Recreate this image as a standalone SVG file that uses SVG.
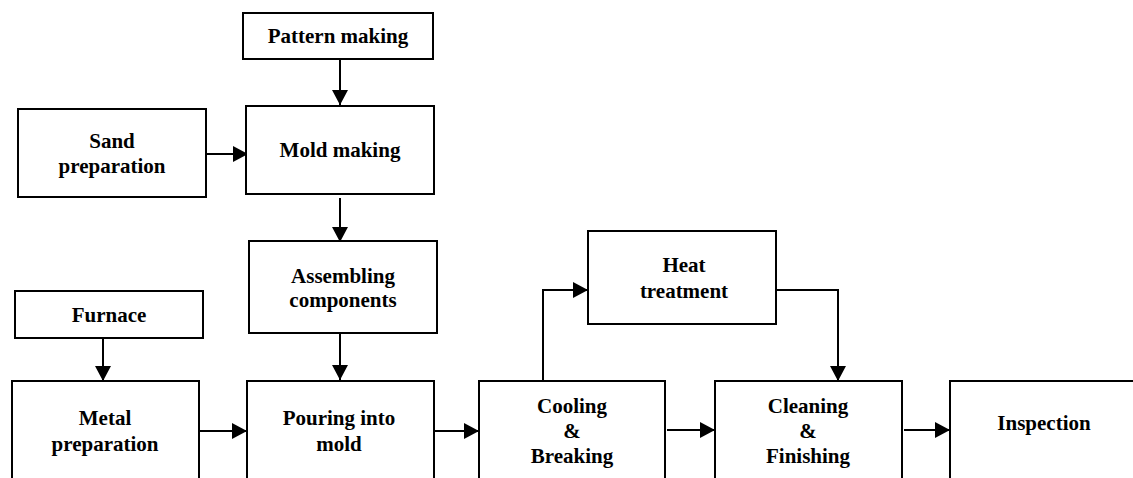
<svg xmlns="http://www.w3.org/2000/svg" width="1133" height="478" viewBox="0 0 1133 478">
<style>
.box{fill:#fff;stroke:#000;stroke-width:2}
.t{font-family:"Liberation Serif","Times New Roman",serif;font-weight:bold;font-size:21px;fill:#000;text-anchor:middle}
.c{fill:none;stroke:#000;stroke-width:2}
</style>
<defs>
<marker id="ah" markerUnits="userSpaceOnUse" markerWidth="16" markerHeight="16" viewBox="0 0 16 16" refX="15" refY="8" orient="auto">
<path d="M0,0 L15,8 L0,16 Z" fill="#000"/>
</marker>
</defs>
<rect width="1133" height="478" fill="#fff"/>
<g id="connectors">
<line class="c" x1="340" y1="59" x2="340" y2="105" marker-end="url(#ah)"/>
<line class="c" x1="206" y1="154" x2="248" y2="154" marker-end="url(#ah)"/>
<line class="c" x1="340" y1="198" x2="340" y2="242" marker-end="url(#ah)"/>
<line class="c" x1="340" y1="333" x2="340" y2="380" marker-end="url(#ah)"/>
<line class="c" x1="103" y1="338" x2="103" y2="381" marker-end="url(#ah)"/>
<line class="c" x1="199" y1="431" x2="247" y2="431" marker-end="url(#ah)"/>
<line class="c" x1="434" y1="431" x2="479" y2="431" marker-end="url(#ah)"/>
<polyline class="c" points="543,381 543,290 588,290" marker-end="url(#ah)"/>
<polyline class="c" points="776,290 838,290 838,381" marker-end="url(#ah)"/>
<line class="c" x1="667" y1="430" x2="715" y2="430" marker-end="url(#ah)"/>
<line class="c" x1="904" y1="430" x2="950" y2="430" marker-end="url(#ah)"/>
</g>
<g id="pattern-making">
<rect class="box" x="243" y="13" width="190" height="46"/>
<text class="t" x="338" y="43">Pattern making</text>
</g>
<g id="sand-preparation">
<rect class="box" x="18" y="109" width="188" height="88"/>
<text class="t" x="112" y="148">Sand</text>
<text class="t" x="112" y="173">preparation</text>
</g>
<g id="mold-making">
<rect class="box" x="246" y="106" width="188" height="88"/>
<text class="t" x="340" y="157">Mold making</text>
</g>
<g id="assembling-components">
<rect class="box" x="249" y="241" width="188" height="92"/>
<text class="t" x="343" y="283">Assembling</text>
<text class="t" x="343" y="307">components</text>
</g>
<g id="furnace">
<rect class="box" x="15" y="291" width="188" height="47"/>
<text class="t" x="109" y="322">Furnace</text>
</g>
<g id="metal-preparation">
<rect class="box" x="12" y="381" width="187" height="110"/>
<text class="t" x="105" y="425">Metal</text>
<text class="t" x="105" y="451">preparation</text>
</g>
<g id="pouring-into-mold">
<rect class="box" x="247" y="381" width="187" height="110"/>
<text class="t" x="339" y="425">Pouring into</text>
<text class="t" x="339" y="451">mold</text>
</g>
<g id="heat-treatment">
<rect class="box" x="588" y="231" width="188" height="93"/>
<text class="t" x="684" y="272">Heat</text>
<text class="t" x="684" y="298">treatment</text>
</g>
<g id="cooling-breaking">
<rect class="box" x="479" y="381" width="186" height="110"/>
<text class="t" x="572" y="413">Cooling</text>
<text class="t" x="572" y="438">&amp;</text>
<text class="t" x="572" y="463">Breaking</text>
</g>
<g id="cleaning-finishing">
<rect class="box" x="715" y="381" width="187" height="110"/>
<text class="t" x="808" y="413">Cleaning</text>
<text class="t" x="808" y="438">&amp;</text>
<text class="t" x="808" y="463">Finishing</text>
</g>
<g id="inspection">
<rect class="box" x="950" y="381" width="190" height="110"/>
<text class="t" x="1044" y="430">Inspection</text>
</g>
</svg>
